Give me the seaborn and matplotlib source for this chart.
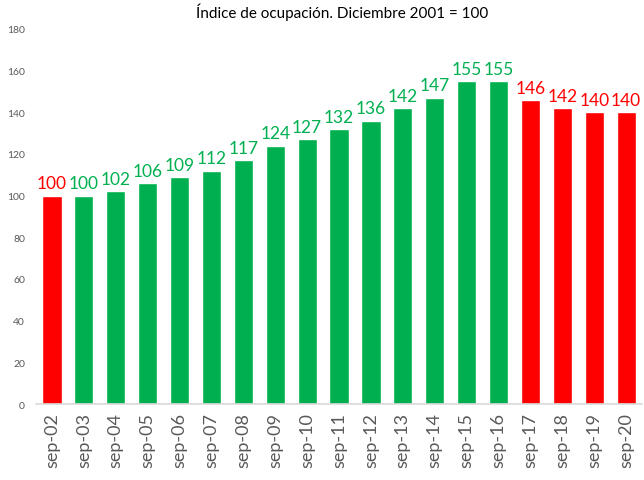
import matplotlib
matplotlib.use("Agg")
import matplotlib.pyplot as plt
import seaborn as sns
import pandas as pd

# data
periods = ["sep-02", "sep-03", "sep-04", "sep-05", "sep-06", "sep-07", "sep-08",
           "sep-09", "sep-10", "sep-11", "sep-12", "sep-13", "sep-14", "sep-15",
           "sep-16", "sep-17", "sep-18", "sep-19", "sep-20"]
index_values = [100, 100, 102, 106, 109, 112, 117, 124, 127, 132, 136, 142,
                147, 155, 155, 146, 142, 140, 140]
phase = ["down"] + ["up"] * 14 + ["down"] * 4

GREEN = "#00B050"
RED = "#FF0000"
colors = {"up": GREEN, "down": RED}

df = pd.DataFrame({"period": periods, "value": index_values, "phase": phase})

sns.set_style("white")
plt.rcParams["font.family"] = ["Lato", "DejaVu Sans"]

fig = plt.figure(figsize=(6.44, 4.81), dpi=100)
ax = fig.add_axes([0.056, 0.158, 0.941, 0.78])

sns.barplot(data=df, x="period", y="value", hue="phase", palette=colors,
            dodge=False, width=0.6, legend=False, ax=ax, saturation=1)

for i, (v, p) in enumerate(zip(index_values, phase)):
    ax.text(i, v + 2, str(v), ha="center", va="bottom", fontsize=12.5,
            color=colors[p])

ax.set_ylim(0, 180)
ax.set_yticks(range(0, 181, 20))
ax.set_xlim(-0.5, len(periods) - 0.5)
ax.set_xlabel("")
ax.set_ylabel("")
ax.tick_params(axis="y", labelsize=7.5, colors="#595959", length=0, pad=8)
ax.tick_params(axis="x", labelsize=13, colors="#595959", length=0, rotation=90, pad=6)
for s in ["top", "right", "left"]:
    ax.spines[s].set_visible(False)
ax.spines["bottom"].set_color("#D9D9D9")
ax.spines["bottom"].set_linewidth(1.2)

fig.suptitle("Índice de ocupación. Diciembre 2001 = 100", fontsize=11,
             x=0.532, y=0.993, color="#000000")

fig.savefig("out.png", dpi=100)
